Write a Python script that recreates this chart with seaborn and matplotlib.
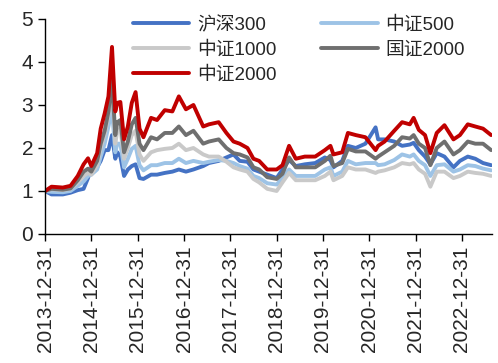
import matplotlib
matplotlib.use("Agg")
import matplotlib.pyplot as plt
import pandas as pd
import seaborn as sns

# data (normalised to 1 at 2013-12-31)
dates = ["2013-12-31", "2014-02-20", "2014-05-20", "2014-07-20", "2014-09-15", "2014-10-31",
         "2014-12-05", "2014-12-31", "2015-02-15", "2015-03-15", "2015-04-15", "2015-05-15",
         "2015-06-12", "2015-07-08", "2015-07-24", "2015-08-17", "2015-09-15", "2015-10-15",
         "2015-11-15", "2015-12-15", "2016-01-15", "2016-02-15", "2016-04-15", "2016-06-01",
         "2016-08-01", "2016-09-30", "2016-11-20", "2017-01-15", "2017-03-15", "2017-05-31",
         "2017-07-15", "2017-09-30", "2017-11-30", "2018-01-25", "2018-03-15", "2018-05-15",
         "2018-07-01", "2018-08-15", "2018-10-18", "2018-12-31", "2019-02-15", "2019-04-08",
         "2019-05-31", "2019-08-10", "2019-10-31", "2020-01-15", "2020-02-28", "2020-03-23",
         "2020-05-31", "2020-07-15", "2020-09-15", "2020-11-30", "2021-02-18", "2021-03-10",
         "2021-04-30", "2021-07-15", "2021-09-15", "2021-11-15", "2021-12-15", "2022-01-25",
         "2022-03-15", "2022-04-26", "2022-06-15", "2022-08-15", "2022-10-25", "2022-12-15",
         "2023-02-15", "2023-04-15", "2023-06-15", "2023-08-18"]

hs300 = [1.00, 0.92, 0.92, 0.96, 1.02, 1.05, 1.30, 1.55, 1.55, 1.70, 1.95, 1.95, 2.30, 1.75,
         1.90, 1.80, 1.35, 1.50, 1.58, 1.62, 1.30, 1.28, 1.38, 1.38, 1.42, 1.45, 1.50, 1.45,
         1.50, 1.58, 1.65, 1.70, 1.78, 1.85, 1.70, 1.68, 1.50, 1.45, 1.38, 1.30, 1.50, 1.72,
         1.58, 1.62, 1.65, 1.78, 1.72, 1.55, 1.70, 2.05, 2.00, 2.10, 2.48, 2.20, 2.20, 2.15,
         2.05, 2.08, 2.12, 1.95, 1.80, 1.62, 1.88, 1.80, 1.55, 1.70, 1.80, 1.75, 1.65, 1.60]

zz500 = [1.00, 0.98, 0.97, 1.00, 1.12, 1.22, 1.35, 1.38, 1.50, 1.80, 2.10, 2.50, 2.90, 1.90,
         2.10, 2.10, 1.55, 1.75, 1.98, 2.05, 1.60, 1.48, 1.60, 1.60, 1.65, 1.65, 1.75, 1.65,
         1.70, 1.65, 1.68, 1.72, 1.70, 1.65, 1.58, 1.52, 1.35, 1.30, 1.18, 1.15, 1.30, 1.50,
         1.35, 1.35, 1.35, 1.50, 1.55, 1.35, 1.45, 1.70, 1.62, 1.65, 1.65, 1.60, 1.62, 1.72,
         1.85, 1.80, 1.85, 1.70, 1.60, 1.35, 1.60, 1.62, 1.45, 1.50, 1.60, 1.58, 1.52, 1.48]

zz1000 = [1.00, 1.04, 1.02, 1.05, 1.20, 1.35, 1.42, 1.38, 1.60, 2.00, 2.30, 2.75, 3.40, 2.10,
          2.40, 2.45, 1.75, 2.00, 2.30, 2.40, 1.85, 1.70, 1.90, 1.95, 1.98, 2.00, 2.10, 1.95,
          2.00, 1.85, 1.80, 1.80, 1.68, 1.55, 1.50, 1.45, 1.28, 1.20, 1.05, 1.00, 1.20, 1.42,
          1.25, 1.25, 1.25, 1.35, 1.45, 1.25, 1.35, 1.55, 1.50, 1.50, 1.42, 1.45, 1.48, 1.55,
          1.65, 1.62, 1.65, 1.50, 1.40, 1.10, 1.45, 1.45, 1.30, 1.35, 1.45, 1.42, 1.40, 1.35]

gz2000 = [1.00, 1.05, 1.03, 1.06, 1.25, 1.45, 1.52, 1.45, 1.70, 2.10, 2.40, 2.85, 3.60, 2.30,
          2.60, 2.65, 1.90, 2.15, 2.55, 2.70, 2.10, 1.95, 2.25, 2.20, 2.35, 2.35, 2.50, 2.30,
          2.40, 2.10, 2.15, 2.20, 2.00, 1.88, 1.85, 1.78, 1.55, 1.50, 1.32, 1.28, 1.40, 1.78,
          1.55, 1.55, 1.55, 1.70, 1.82, 1.58, 1.65, 1.98, 1.92, 1.92, 1.75, 1.80, 1.90, 2.05,
          2.25, 2.22, 2.30, 2.10, 2.00, 1.60, 2.00, 2.15, 1.85, 1.95, 2.15, 2.10, 2.10, 1.95]

zz2000 = [1.00, 1.10, 1.08, 1.12, 1.35, 1.62, 1.76, 1.58, 1.88, 2.45, 2.80, 3.20, 4.35, 2.85,
          3.05, 3.07, 2.20, 2.50, 3.05, 3.30, 2.45, 2.25, 2.70, 2.65, 2.88, 2.85, 3.20, 2.90,
          3.00, 2.50, 2.55, 2.60, 2.35, 2.15, 2.10, 2.00, 1.75, 1.70, 1.50, 1.50, 1.60, 2.05,
          1.75, 1.80, 1.80, 1.95, 2.05, 1.85, 1.90, 2.35, 2.30, 2.25, 1.95, 2.05, 2.15, 2.40,
          2.60, 2.55, 2.70, 2.42, 2.30, 1.88, 2.35, 2.53, 2.20, 2.30, 2.55, 2.50, 2.45, 2.30]

names = ["沪深300", "中证500", "中证1000", "国证2000", "中证2000"]
colors = ["#4472C4", "#9DC3E6", "#C9C9C9", "#6F6F6F", "#C00000"]
tick_dates = ["2013-12-31", "2014-12-31", "2015-12-31", "2016-12-31", "2017-12-31",
              "2018-12-31", "2019-12-31", "2020-12-31", "2021-12-31", "2022-12-31"]

df = pd.DataFrame({"date": pd.to_datetime(dates), names[0]: hs300, names[1]: zz500,
                   names[2]: zz1000, names[3]: gz2000, names[4]: zz2000})
long_df = df.melt(id_vars="date", var_name="index", value_name="value")

sns.set_style("ticks")
plt.rcParams["font.family"] = ["Liberation Sans", "Noto Sans CJK SC"]
plt.rcParams["axes.unicode_minus"] = False

fig = plt.figure(figsize=(4.98, 3.63), dpi=100)
ax = fig.add_axes([0.0904, 0.3554, 0.988 - 0.0904, 0.9477 - 0.3554])

sns.lineplot(data=long_df, x="date", y="value", hue="index", hue_order=names,
             palette=dict(zip(names, colors)), linewidth=2.8, ax=ax)

ax.set_ylim(0, 5)
ax.set_xlim(pd.Timestamp("2013-12-31"), pd.Timestamp("2023-08-25"))
ax.set_yticks([0, 1, 2, 3, 4, 5])
ticks = pd.to_datetime(tick_dates)
ax.set_xticks(ticks)
ax.set_xticklabels([t.strftime("%Y-%m-%d") for t in ticks], rotation=90)
ax.tick_params(axis="both", labelsize=15, length=5, width=1, color="black", direction="out")
ax.set_xlabel("")
ax.set_ylabel("")
sns.despine(ax=ax)
for s in ["left", "bottom"]:
    ax.spines[s].set_color("black")
    ax.spines[s].set_linewidth(1)

# legend: 2 columns, filled column-wise
handles, labels = ax.get_legend_handles_labels()
order = [0, 2, 4, 1, 3]
ax.legend([handles[i] for i in order], [labels[i] for i in order], ncol=2, frameon=False,
          loc="upper left", bbox_to_anchor=(0.197, 1.012), fontsize=13.5,
          handlelength=3.0, handletextpad=0.4, columnspacing=2.4, labelspacing=0.4,
          borderaxespad=0, borderpad=0)

fig.savefig("out.png", dpi=100)
